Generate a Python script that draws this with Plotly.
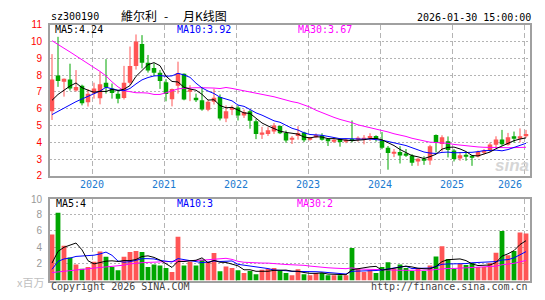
import numpy as np
import pandas as pd
import plotly.graph_objects as go

# ---------------- data ----------------
months = [d.strftime("%Y-%m") for d in pd.date_range("2019-06-01", periods=80, freq="MS")]

opens = [5.85, 7.97, 7.60, 7.74, 7.08, 7.37, 6.38, 6.92, 6.62, 7.55,
         7.20, 6.89, 6.64, 7.55, 8.55, 9.85, 8.74, 8.42, 8.14, 7.57,
         6.57, 7.37, 8.08, 7.05, 6.66, 6.50, 5.94, 6.41, 6.70, 5.42,
         5.94, 6.07, 5.60, 5.85, 5.25, 4.49, 4.50, 4.65, 4.97, 4.56,
         4.16, 4.38, 4.58, 4.16, 4.30, 4.41, 4.21, 4.07, 4.21, 4.06,
         4.20, 4.16, 4.16, 4.26, 4.37, 4.12, 3.67, 3.34, 3.43, 3.34,
         3.22, 2.86, 3.02, 2.92, 4.43, 3.90, 4.07, 3.52, 3.03, 3.23,
         3.19, 3.16, 3.38, 3.51, 3.85, 4.17, 3.86, 4.36, 4.26, 4.36]
highs = [9.25, 10.28, 7.80, 8.68, 8.30, 7.43, 7.17, 7.55, 8.20, 8.95,
         7.50, 7.10, 8.55, 9.70, 10.42, 10.38, 9.20, 8.70, 8.30, 7.76,
         7.20, 8.80, 8.10, 7.40, 6.90, 7.30, 6.50, 7.19, 6.85, 6.20,
         6.20, 6.20, 5.95, 5.95, 5.38, 4.92, 4.90, 5.15, 5.00, 4.70,
         4.37, 4.96, 4.63, 4.32, 4.53, 4.54, 4.25, 4.20, 4.25, 4.20,
         5.30, 4.36, 4.43, 4.54, 4.42, 4.61, 3.78, 3.60, 3.77, 3.60,
         3.30, 3.06, 3.17, 3.85, 4.47, 4.42, 4.35, 3.60, 3.42, 3.42,
         3.23, 3.51, 3.60, 3.98, 4.36, 4.74, 4.56, 4.64, 4.83, 4.74]
lows = [5.33, 7.30, 6.72, 7.08, 7.02, 6.20, 6.13, 6.60, 6.26, 6.90,
        6.60, 6.32, 6.55, 7.40, 8.33, 8.40, 8.15, 7.95, 7.18, 6.44,
        6.14, 6.90, 6.50, 6.45, 6.40, 5.88, 5.85, 6.25, 5.30, 5.20,
        5.62, 5.30, 5.45, 4.81, 4.19, 4.20, 4.38, 4.50, 4.49, 3.98,
        3.90, 4.16, 4.02, 4.10, 4.25, 4.10, 3.78, 3.96, 3.74, 3.95,
        4.00, 4.04, 3.88, 4.08, 4.04, 3.59, 2.37, 3.12, 2.74, 3.13,
        2.60, 2.60, 2.66, 2.66, 3.40, 3.45, 3.10, 2.86, 2.90, 2.90,
        2.60, 3.10, 3.28, 3.42, 3.70, 3.80, 3.80, 3.98, 4.00, 4.26]
closes = [7.74, 7.65, 7.78, 7.20, 7.30, 6.33, 6.89, 7.20, 7.45, 7.26,
          6.94, 6.60, 7.55, 8.55, 10.00, 8.74, 8.28, 8.14, 7.65, 6.87,
          7.18, 8.12, 6.55, 7.15, 6.51, 5.95, 6.41, 6.66, 5.42, 5.85,
          6.07, 5.60, 5.80, 5.28, 4.49, 4.58, 4.72, 5.00, 4.54, 4.11,
          4.24, 4.55, 4.13, 4.29, 4.44, 4.16, 4.07, 4.15, 4.02, 4.16,
          4.08, 4.24, 4.26, 4.38, 4.20, 3.67, 3.36, 3.43, 3.21, 3.25,
          2.78, 3.02, 2.92, 3.77, 3.96, 4.30, 3.55, 3.00, 3.23, 3.17,
          3.13, 3.42, 3.51, 3.87, 4.17, 3.89, 4.30, 4.26, 4.36, 4.50]
volumes = [5.54, 8.15, 4.19, 2.77, 1.92, 1.42, 1.62, 2.27, 3.50, 2.85,
           1.62, 1.23, 2.85, 3.42, 3.54, 3.42, 1.62, 1.92, 1.81, 1.50,
           1.04, 5.27, 1.81, 2.27, 1.81, 2.50, 2.27, 3.31, 1.12, 1.69,
           1.50, 1.23, 0.92, 1.15, 0.77, 1.31, 1.42, 1.50, 1.15, 0.92,
           0.65, 1.35, 0.77, 0.65, 0.92, 0.92, 0.65, 0.65, 0.65, 0.65,
           3.92, 1.42, 1.04, 1.23, 0.92, 1.62, 2.19, 1.42, 1.92, 1.50,
           1.15, 1.42, 1.15, 1.81, 2.88, 4.12, 2.58, 1.42, 2.00, 1.88,
           2.12, 1.62, 1.62, 2.12, 3.35, 5.96, 3.04, 3.54, 5.77, 5.65]

# moving-average values at the left edge (window starts before the chart)
ma5_head = [6.50, 6.85, 7.10, 7.35]
ma10_head = [5.65, 5.85, 6.05, 6.25, 6.42, 6.58, 6.75, 6.90, 7.05]
ma30_head = [10.05, 9.80, 9.60, 9.38, 9.16, 8.94, 8.70, 8.45, 8.22, 7.95,
             7.60, 7.30, 7.08, 7.00, 6.95, 6.95, 6.93, 6.85, 6.85, 6.95,
             7.08, 7.18, 7.22, 7.25, 7.25, 7.25, 7.25, 7.23, 7.20]
vma5_head = [2.10, 3.50, 4.00, 4.30]
vma10_head = [1.35, 2.30, 2.60, 2.70, 2.90, 2.95, 3.00, 3.05, 3.20]
vma30_head = [0.96, 1.05, 1.12, 1.20, 1.27, 1.35, 1.42, 1.50, 1.57, 1.63,
              1.70, 1.76, 1.85, 2.00, 2.10, 2.15, 2.18, 2.20, 2.22, 2.25,
              2.28, 2.30, 2.35, 2.38, 2.42, 2.45, 2.50, 2.53, 2.55]

price_ticks = [2, 3, 4, 5, 6, 7, 8, 9, 10, 11]
vol_ticks = [2, 4, 6, 8]
title_code = "sz300190"
title_name = "維尔利"
title_kind = "月K线图"
timestamp = "2026-01-30 15:00:00"
ma_labels = ["MA5:4.24", "MA10:3.92", "MA30:3.67"]
vma_labels = ["MA5:4", "MA10:3", "MA30:2"]

# ---------------- styling ----------------
RED = "#ff5555"
GREEN = "#00a600"
MA_COLORS = ["#000000", "#0000ff", "#ff00ff"]
GRID = "#b4b4b4"
FRAME = "#a0a0a0"
MONO = "DejaVu Sans Mono"
W, H = 545, 300


def moving_avg(vals, win, head):
    out = list(head)
    for i in range(len(head), len(vals)):
        out.append(float(np.mean(vals[i - win + 1:i + 1])))
    return out


n = len(months)
x = np.arange(n)
o = np.array(opens); h = np.array(highs); l = np.array(lows); c = np.array(closes)
up = c >= o

fig = go.Figure()

# wicks
for mask, col in ((up, RED), (~up, GREEN)):
    wx, wy = [], []
    for i in x[mask]:
        wx += [i, i, None]
        wy += [l[i], h[i], None]
    fig.add_trace(go.Scatter(x=wx, y=wy, mode="lines", line=dict(color=col, width=1),
                             hoverinfo="skip", xaxis="x", yaxis="y"))
# bodies
for mask, col in ((up, RED), (~up, GREEN)):
    idx = x[mask]
    base = np.minimum(o[idx], c[idx])
    hgt = np.maximum(np.abs(c[idx] - o[idx]), 0.05)
    fig.add_trace(go.Bar(x=idx, y=hgt, base=base, width=0.75, marker=dict(color=col, line_width=0),
                         xaxis="x", yaxis="y"))
# price MAs
for win, head, col in ((30, ma30_head, MA_COLORS[2]), (10, ma10_head, MA_COLORS[1]), (5, ma5_head, MA_COLORS[0])):
    fig.add_trace(go.Scatter(x=x, y=moving_avg(closes, win, head), mode="lines",
                             line=dict(color=col, width=1), xaxis="x", yaxis="y"))

# volume
vcols = [RED if u else GREEN for u in up]
fig.add_trace(go.Bar(x=x, y=volumes, width=0.8, marker=dict(color=vcols, line_width=0),
                     xaxis="x2", yaxis="y2"))
for win, head, col in ((30, vma30_head, MA_COLORS[2]), (10, vma10_head, MA_COLORS[1]), (5, vma5_head, MA_COLORS[0])):
    fig.add_trace(go.Scatter(x=x, y=moving_avg(volumes, win, head), mode="lines",
                             line=dict(color=col, width=1), xaxis="x2", yaxis="y2"))

jan_idx = [i for i, m in enumerate(months) if m.endswith("-01")]
year_pos = [i - 1 / 3 for i in jan_idx]
year_txt = [months[i][:4] for i in jan_idx]
xrange_ = [-1 / 3, n - 1 / 3]
xdom = [50 / W, 530 / W]

common_x = dict(range=xrange_, domain=xdom, tickmode="array", tickvals=year_pos, ticks="",
                showgrid=True, gridcolor=GRID, griddash="5px,3px", gridwidth=1,
                showline=True, mirror=True, linecolor=FRAME, linewidth=2, zeroline=False,
                showticklabels=False)
common_y = dict(showgrid=True, gridcolor=GRID, griddash="2px,2px", gridwidth=1, ticks="",
                showline=True, mirror=True, linecolor=FRAME, linewidth=2, zeroline=False,
                ticklabelstandoff=4)

fig.update_layout(
    width=W, height=H, margin=dict(l=0, r=0, t=0, b=0),
    paper_bgcolor="white", plot_bgcolor="white", showlegend=False, barmode="overlay",
    xaxis=dict(**common_x, anchor="y"),
    yaxis=dict(**common_y, domain=[1 - 177 / H, 1 - 19.5 / H], range=[2, 11],
               tickvals=price_ticks, tickfont=dict(family="Liberation Sans", size=10, color="#ff0000")),
    xaxis2=dict(**common_x, anchor="y2"),
    yaxis2=dict(**common_y, domain=[1 - 286 / H, 1 - 201.5 / H], range=[0, 9.75],
                tickvals=vol_ticks + [9.75], ticktext=[str(v) for v in vol_ticks] + ["10"],
                tickfont=dict(family="Liberation Sans", size=10, color="#999999")),
)

# year labels under the price panel (last one kept inside the frame)
for k, (pos, txt) in enumerate(zip(year_pos, year_txt)):
    last = k == len(year_pos) - 1
    fig.add_annotation(text=txt, x=pos, xref="x", y=1 - 186 / H, yref="paper",
                       xanchor="right" if last else "center", yanchor="middle", showarrow=False,
                       font=dict(family=MONO, size=10, color="#1a7ad0"))


def note(text, px, py, anchor="left", size=10, color="#000000", family=MONO):
    fig.add_annotation(text=text, x=px / W, y=1 - py / H, xref="paper", yref="paper",
                       xanchor=anchor, yanchor="middle", showarrow=False,
                       font=dict(family=family, size=size, color=color))


note(title_code, 49, 11)
note(title_name, 119, 10, size=12, family="Noto Sans CJK SC")
note("-", 166, 10, anchor="center", size=12, family="Noto Sans CJK SC")
note(title_kind, 181, 10, size=12, family="Noto Sans CJK SC")
note(timestamp, 533, 12, anchor="right")
for lab, px, col in zip(ma_labels, (53, 175, 296), MA_COLORS):
    note(lab, px, 24, color=col)
for lab, px, col in zip(vma_labels, (54, 175, 295), MA_COLORS):
    note(lab, px, 206, color=col)
note("x百万", 46, 287, anchor="right", size=11, color="#c0c0c0", family="Noto Sans CJK SC")
note("Copyright 2026 SINA.COM", 49, 292, color="#444444")
note("http://finance.sina.com.cn", 530, 292, anchor="right", color="#444444")
note("<b><i>sina</i></b>", 512, 166, anchor="center", size=17, color="#d6d6d6", family="Liberation Sans")

fig.write_html("out.html")
